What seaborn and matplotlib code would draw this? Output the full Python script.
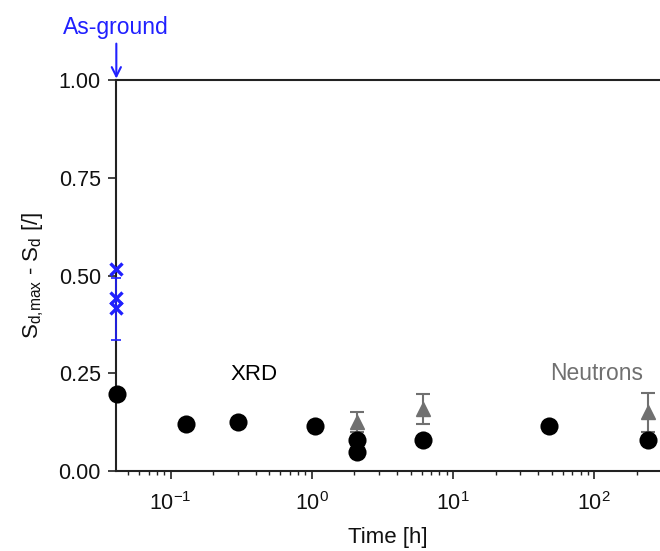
import matplotlib
matplotlib.use("Agg")
import matplotlib.pyplot as plt
import seaborn as sns
import pandas as pd
import numpy as np

sns.set_theme(style="ticks")
plt.rcParams['font.family'] = ['Liberation Sans', 'DejaVu Sans']
plt.rcParams['mathtext.default'] = 'regular'

# XRD data (black circles)
xrd_time = [0.0418, 0.128, 0.299, 1.06, 2.08, 2.08, 6.1, 48.0, 239.0]
xrd_val = [0.198, 0.119, 0.126, 0.116, 0.079, 0.049, 0.078, 0.116, 0.078]

# Neutron data (grey triangles with error bars)
neu_time = [2.08, 6.1, 239.0]
neu_val = [0.126, 0.158, 0.150]
neu_err = [0.025, 0.038, 0.050]

# As-ground (blue crosses)
ag_time = [0.0413, 0.0413, 0.0413]
ag_val = [0.517, 0.442, 0.416]
ag_err_center = 0.414
ag_err = 0.079

fig = plt.figure(figsize=(6.6, 5.51), dpi=100)
ax = fig.add_axes([0.1758, 0.1452, 0.8242, 0.7096])

df = pd.DataFrame({"time": xrd_time, "val": xrd_val})
sns.scatterplot(data=df, x="time", y="val", ax=ax, color="black", s=170,
                edgecolor="black", linewidth=0, zorder=4, clip_on=False)

ax.errorbar(neu_time, neu_val, yerr=neu_err, fmt="^", color="#707070",
            ms=9.5, capsize=5, elinewidth=1.5, capthick=1.5, zorder=3)

ax.errorbar([ag_time[0]], [ag_err_center], yerr=[ag_err], fmt="none",
            ecolor="#2020ff", capsize=3.5, elinewidth=1.2, capthick=1.2,
            zorder=5, clip_on=False)
ax.plot(ag_time, ag_val, "x", color="#2020ff", ms=8.5, mew=2.4, zorder=6,
        clip_on=False)

ax.set_xscale("log")
ax.set_xlim(0.0411, 292)
ax.set_ylim(0, 1.0)
ax.set_yticks([0, 0.25, 0.5, 0.75, 1.0])
ax.set_yticklabels(["0.00", "0.25", "0.50", "0.75", "1.00"])
ax.set_xticks([0.1, 1, 10, 100])
ax.set_xticklabels(["10$^{-1}$", "10$^{0}$", "10$^{1}$", "10$^{2}$"])

for s in ["left", "bottom", "top"]:
    ax.spines[s].set_color("#222222")
    ax.spines[s].set_linewidth(1.5)
ax.spines["right"].set_visible(False)

ax.tick_params(axis="both", which="major", direction="out", length=6,
               width=1.2, labelsize=15.5, color="#222222", labelcolor="#111111")
ax.tick_params(axis="x", which="minor", direction="out", length=3, width=1.0,
               color="#222222")
ax.tick_params(axis="x", pad=9)
ax.tick_params(axis="y", pad=5)

ax.set_xlabel("Time [h]", fontsize=16, labelpad=9, color="#111111")
ax.set_ylabel("S$_{d{,}max}$ - S$_{d}$ [/]",
              fontsize=16, labelpad=9, color="#111111")

ax.text(254, 551 - 374, "XRD", transform=None, fontsize=16, ha="center",
        va="center", color="black")
ax.text(597, 551 - 374, "Neutrons", transform=None, fontsize=16.5,
        ha="center", va="center", color="#707070")

ax.annotate("As-ground", xy=(ag_time[0], 1.0), xycoords="data",
            xytext=(0.0413, 1.105), textcoords="data", ha="center",
            va="bottom", fontsize=16.5, color="#2020ff",
            arrowprops=dict(arrowstyle="->", color="#2020ff", lw=1.5,
                            shrinkA=1, shrinkB=1), annotation_clip=False)

fig.savefig("out.png", dpi=100)
